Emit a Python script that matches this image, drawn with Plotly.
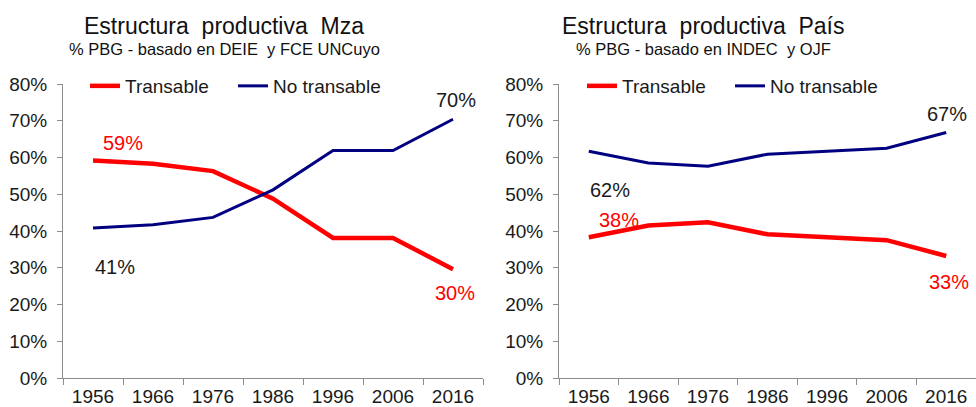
import plotly.graph_objects as go

years = ["1956", "1966", "1976", "1986", "1996", "2006", "2016"]

mza_transable = [59.2, 58.3, 56.3, 48.8, 38.1, 38.1, 29.6]
mza_no_transable = [40.8, 41.7, 43.7, 51.2, 61.9, 61.9, 70.4]

pais_transable = [38.3, 41.5, 42.4, 39.1, 38.3, 37.5, 33.2]
pais_no_transable = [61.7, 58.5, 57.6, 60.9, 61.7, 62.5, 66.8]

titles = ["Estructura\u00a0 productiva\u00a0 Mza", "Estructura\u00a0 productiva\u00a0 País"]
subtitles = ["% PBG - basado en DEIE\u00a0 y FCE UNCuyo", "% PBG - basado en INDEC\u00a0 y OJF"]

FONT = "Arial, Liberation Sans, sans-serif"
RED = "#FF0000"
BLUE = "#000080"
AXIS = "#8C8C8C"
TXT = "#1a1a1a"

fig = go.Figure()

fig.add_trace(go.Scatter(x=years, y=mza_transable, mode="lines", name="Transable",
                         line=dict(color=RED, width=4.5), xaxis="x", yaxis="y", legend="legend"))
fig.add_trace(go.Scatter(x=years, y=mza_no_transable, mode="lines", name="No transable",
                         line=dict(color=BLUE, width=3), xaxis="x", yaxis="y", legend="legend"))
fig.add_trace(go.Scatter(x=years, y=pais_transable, mode="lines", name="Transable",
                         line=dict(color=RED, width=4.5), xaxis="x2", yaxis="y2", legend="legend2"))
fig.add_trace(go.Scatter(x=years, y=pais_no_transable, mode="lines", name="No transable",
                         line=dict(color=BLUE, width=3), xaxis="x2", yaxis="y2", legend="legend2"))

W, H = 976, 407
ydom = [(H - 378) / H, (H - 84) / H]

xaxis_common = dict(type="category", tickson="boundaries", ticks="outside", ticklen=6,
                    tickcolor=AXIS, showline=True, linecolor=AXIS, linewidth=1,
                    showgrid=False, zeroline=False, range=[-0.5, 6.5], automargin=False,
                    ticklabelstandoff=1,
                    tickfont=dict(size=19, color=TXT, family=FONT), fixedrange=True)
yaxis_common = dict(range=[0, 80], dtick=10, ticksuffix="%", ticks="outside", ticklen=5,
                    tickcolor=AXIS, showline=True, linecolor=AXIS, linewidth=1,
                    showgrid=False, zeroline=False, ticklabelstandoff=6, automargin=False,
                    tickfont=dict(size=19, color=TXT, family=FONT), domain=ydom)

legend_common = dict(orientation="h", yanchor="middle", y=(H - 86) / H, xanchor="left",
                     bgcolor="rgba(0,0,0,0)", font=dict(size=19, color=TXT, family=FONT),
                     entrywidth=103, entrywidthmode="pixels", itemclick=False,
                     tracegroupgap=0)


def lab(v):
    return f"{round(v)}%"


def ann(xr, yr, idx, yv, color, dx, dy):
    return dict(x=idx, y=yv, xref=xr, yref=yr, text=lab(yv), showarrow=False,
                xshift=dx, yshift=dy, xanchor="center", yanchor="middle",
                font=dict(size=20, color=color, family=FONT))


first, last = 0, len(years) - 1
annotations = [
    ann("x", "y", first, mza_transable[first], RED, 30, 17),
    ann("x", "y", first, mza_no_transable[first], TXT, 22, -39),
    ann("x", "y", last, mza_no_transable[last], TXT, 3, 19),
    ann("x", "y", last, mza_transable[last], RED, 2, -24),
    ann("x2", "y2", first, pais_no_transable[first], TXT, 21, -39),
    ann("x2", "y2", first, pais_transable[first], RED, 30, 17),
    ann("x2", "y2", last, pais_no_transable[last], TXT, 1, 19),
    ann("x2", "y2", last, pais_transable[last], RED, 3, -26),
]

title_x = [224 / W, 703 / W]
for tx, t, s in zip(title_x, titles, subtitles):
    annotations.append(dict(x=tx, y=(H - 26) / H, xref="paper", yref="paper", text=t,
                            showarrow=False, xanchor="center", yanchor="middle",
                            font=dict(size=23, color="#111111", family=FONT)))
    annotations.append(dict(x=tx, y=(H - 49) / H, xref="paper", yref="paper", text=s,
                            showarrow=False, xanchor="center", yanchor="middle",
                            font=dict(size=16.5, color="#111111", family=FONT)))

fig.update_layout(
    width=W, height=H,
    margin=dict(l=0, r=0, t=0, b=0, pad=0, autoexpand=False),
    paper_bgcolor="white", plot_bgcolor="white",
    font=dict(family=FONT),
    xaxis=dict(xaxis_common, domain=[63 / W, 483 / W], anchor="y"),
    yaxis=dict(yaxis_common, anchor="x"),
    xaxis2=dict(xaxis_common, domain=[559 / W, 1.0], anchor="y2"),
    yaxis2=dict(yaxis_common, anchor="x2"),
    legend=dict(legend_common, x=85 / W),
    legend2=dict(legend_common, x=582 / W),
    annotations=annotations,
)

fig.write_html("out.html", config={"displayModeBar": False},
               post_script="document.body.style.margin='0';document.body.style.overflow='hidden';")
